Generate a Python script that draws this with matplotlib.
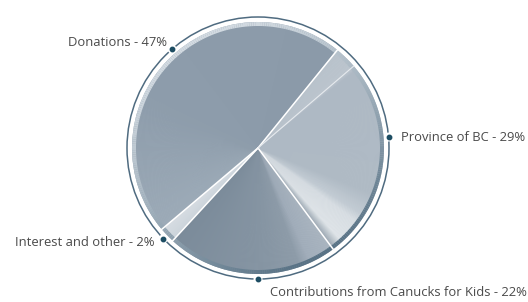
import numpy as np
import matplotlib
matplotlib.use("Agg")
import matplotlib.pyplot as plt
from matplotlib.patches import Wedge, Circle
from matplotlib.colors import to_rgb

# ---- data ----
categories = ["Donations", "Interest and other", "Contributions from Canucks for Kids", "Province of BC"]
shares = [47, 2, 22, 29]
labels = ["Donations - 47%", "Interest and other - 2%",
          "Contributions from Canucks for Kids - 22%", "Province of BC - 29%"]

# ---- styles ----
base_colors = ["#8e9dab", "#d3d9df", "#8392a1", "#aeb9c4"]
grad_stops = [
    [(0.0, "#8b9aa9"), (0.6, "#8d9cab"), (1.0, "#9dabb8")],
    [(0.0, "#d6dce2"), (1.0, "#ccd4db")],
    [(0.0, "#7b8b9a"), (0.6, "#8796a4"), (0.78, "#8e9ca9"), (0.85, "#a2aebb"), (1.0, "#aab5c0")],
    [(0.0, "#9aa6b1"), (0.05, "#dfe4e8"), (0.16, "#d8dee3"), (0.2, "#c3ccd4"), (0.3, "#b0bbc5"),
     (0.88, "#aeb9c4"), (0.9, "#bcc5ce"), (1.0, "#b9c3cc")],
]
label_offsets = [(-5, 7, "right"), (-9, -4, "right"), (12, -13, "left"), (12, 0, "left")]
dot_shift_deg = [-4.6, 0.0, 3.0, 6.0]

W, H = 528, 302
fig = plt.figure(figsize=(W / 100, H / 100), dpi=100)
ax = fig.add_axes([0, 0, 1, 1])
cx, cy = 258, 154
R = 126

wedges, _ = ax.pie(shares, colors=base_colors, startangle=51, counterclock=True,
                   radius=R, center=(cx, cy),
                   wedgeprops=dict(linewidth=0, edgecolor="white"))
ax.set_xlim(0, W)
ax.set_ylim(0, H)
ax.set_aspect("equal")
ax.axis("off")


def interp(stops, f):
    for (f0, c0), (f1, c1) in zip(stops[:-1], stops[1:]):
        if f0 <= f <= f1:
            t = 0 if f1 == f0 else (f - f0) / (f1 - f0)
            a, b = np.array(to_rgb(c0)), np.array(to_rgb(c1))
            return tuple(a + (b - a) * t)
    return to_rgb(stops[-1][1])


# angular gradient shading inside each wedge
for w, stops in zip(wedges, grad_stops):
    t1, t2 = w.theta1, w.theta2
    n = max(4, int((t2 - t1) * 2))
    edges = np.linspace(t1, t2, n + 1)
    for a0, a1 in zip(edges[:-1], edges[1:]):
        f = ((a0 + a1) / 2 - t1) / (t2 - t1)
        c = interp(stops, f)
        ax.add_patch(Wedge((cx, cy), R - 3, a0, a1 + 0.3, facecolor=c, edgecolor="none", zorder=2))

# rim band with lighting
n = 360
for a0 in np.linspace(0, 360, n, endpoint=False):
    am = a0 + 0.5
    t = (1 + np.cos(np.radians(am + 60))) / 2
    light = np.array(to_rgb("#d3dbe2"))
    dark = np.array(to_rgb("#587285"))
    c = tuple(light + (dark - light) * t ** 1.3)
    ax.add_patch(Wedge((cx, cy), R, a0, a0 + 1.05, width=4, facecolor=c, edgecolor="none", zorder=2))

# white separators
for w in wedges:
    ang = w.theta1
    x = cx + R * np.cos(np.radians(ang))
    y = cy + R * np.sin(np.radians(ang))
    ax.plot([cx, x], [cy, y], color="white", lw=1.1, zorder=3)
# inner extra separator in Province wedge
pw = wedges[3]
ang = pw.theta1 + 0.9 * (pw.theta2 - pw.theta1)
ax.plot([cx, cx + R * np.cos(np.radians(ang))], [cy, cy + R * np.sin(np.radians(ang))],
        color="#e6eaee", lw=0.8, zorder=3)

# outer ring
ax.add_patch(Circle((cx, cy), R + 5, facecolor="none", edgecolor="#4f6b80", lw=1.1, zorder=4))

# dots and labels
Ro = R + 5
for w, lab, (dx, dy, ha), sh in zip(wedges, labels, label_offsets, dot_shift_deg):
    mid = np.radians((w.theta1 + w.theta2) / 2 + sh)
    x = cx + Ro * np.cos(mid)
    y = cy + Ro * np.sin(mid)
    ax.add_patch(Circle((x, y), 4.5, facecolor="white", edgecolor="none", zorder=5))
    ax.plot([x], [y], "o", ms=3.2, color="#1d4d63", zorder=6)
    ax.annotate(lab, (x, y), xytext=(dx * 0.72, dy * 0.72), textcoords="offset points",
                ha=ha, va="center", fontsize=9.4, color="#4a4a4a", family="Open Sans")

fig.savefig("out.png", dpi=100)
